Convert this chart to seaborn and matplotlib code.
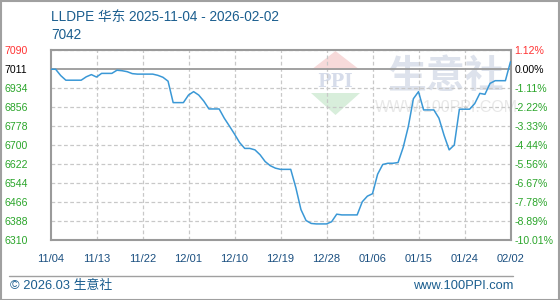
import matplotlib
matplotlib.use("Agg")
import matplotlib.pyplot as plt
from matplotlib.patches import Polygon, Rectangle
from matplotlib.lines import Line2D
import numpy as np
import pandas as pd
import seaborn as sns

# ---------------- data ----------------
title = "LLDPE 华东 2025-11-04 - 2026-02-02"
last_value_label = "7042"
base_value = 7011
start_date = "2025-11-04"
prices = [
    7011, 7011, 6985, 6966, 6966, 6966, 6966, 6980, 6989, 6979,
    6994, 6994, 6994, 7007, 7005, 7001, 6993, 6991, 6991, 6991,
    6991, 6986, 6978, 6962, 6874, 6874, 6874, 6905, 6919, 6905,
    6880, 6848, 6848, 6848, 6810, 6778, 6745, 6710, 6686, 6686,
    6680, 6660, 6632, 6615, 6605, 6600, 6600, 6600, 6525, 6435,
    6390, 6378, 6376, 6376, 6376, 6385, 6416, 6413, 6413, 6413,
    6413, 6467, 6490, 6500, 6580, 6620, 6625, 6625, 6628, 6690,
    6775, 6890, 6919, 6844, 6844, 6844, 6810, 6740, 6680, 6700,
    6847, 6847, 6847, 6870, 6912, 6908, 6953, 6964, 6964, 6964,
    7042,
]
y_ticks = [7090, 7011, 6934, 6856, 6778, 6700, 6622, 6544, 6466, 6388, 6310]
y_tick_labels = ["7090", "7011", "6934", "6856", "6778", "6700", "6622",
                 "6544", "6466", "6388", "6310"]
pct_labels = ["1.12%", "0.00%", "-1.11%", "-2.22%", "-3.33%", "-4.44%",
              "-5.56%", "-6.67%", "-7.78%", "-8.89%", "-10.01%"]
x_tick_labels = ["11/04", "11/13", "11/22", "12/01", "12/10", "12/19",
                 "12/28", "01/06", "01/15", "01/24", "02/02"]
footer_left = "© 2026.03 生意社"
footer_right = "www.100PPI.com"

dates = pd.date_range(start_date, periods=len(prices), freq="D")
df = pd.DataFrame({"date": dates, "price": prices})
x_tick_dates = pd.date_range(start_date, periods=len(x_tick_labels), freq="9D")

# ---------------- style ----------------
sns.set_theme(style="white")
plt.rcParams["font.family"] = ["Liberation Sans", "Noto Sans CJK SC", "DejaVu Sans"]

W, H = 560, 300
fig = plt.figure(figsize=(W / 100, H / 100), dpi=100)
fig.patch.set_facecolor("white")

def fx(px):
    return px / W

def fy(py):
    return 1 - py / H

ax_l, ax_r, ax_t, ax_b = 50.5, 510.5, 50, 240
ax = fig.add_axes([fx(ax_l), fy(ax_b), fx(ax_r - ax_l), (ax_b - ax_t) / H])

# watermark logo (decoration)
pink = "#f7dada"
green = "#d8eedb"
fig.patches.append(Polygon([[fx(311), fy(70)], [fx(360), fy(70)], [fx(335.5), fy(51)]],
                           closed=True, transform=fig.transFigure, facecolor=pink,
                           edgecolor="none", zorder=0.5))
fig.patches.append(Polygon([[fx(311), fy(93)], [fx(360), fy(93)], [fx(335.5), fy(115)]],
                           closed=True, transform=fig.transFigure, facecolor=green,
                           edgecolor="none", zorder=0.5))

ax.set_zorder(1)
ax.patch.set_alpha(0)

fig.text(fx(335.5), fy(82), "PPI", color="#d6dcea", fontsize=13, fontweight="bold",
         ha="center", va="center", zorder=0.6, family=["DejaVu Serif"])
fig.text(fx(446), fy(77), "生意社", color="#dde2ec", fontsize=28, fontweight="bold",
         ha="center", va="center", zorder=0.6, family=["Noto Sans CJK SC"])
fig.text(fx(446), fy(108), "WWW.100PPI.COM", color="#e8e8e8", fontsize=11.5,
         ha="center", va="center", zorder=0.6)

# line
sns.lineplot(data=df, x="date", y="price", ax=ax, color="#3a98d6", linewidth=1.1,
             zorder=3)

ax.set_xlim(dates[0], dates[-1])
ax.set_ylim(y_ticks[-1], y_ticks[0])
ax.set_xlabel("")
ax.set_ylabel("")

# grid
for v in y_ticks[2:-1]:
    ax.axhline(v, color="#c8c8c8", linestyle=(0, (3, 2)), linewidth=0.9, zorder=1)
ax.axhline(base_value, color="#9a9a9a", linewidth=1.3, zorder=2)
for d in x_tick_dates[1:-1]:
    ax.axvline(d, color="#c8c8c8", linestyle=(0, (3, 2)), linewidth=0.9, zorder=1)
ax.axhline(y_ticks[0], color="#c8c8c8", linestyle=(0, (3, 2)), linewidth=0.9, zorder=1)

for s in ax.spines.values():
    s.set_color("#9a9a9a")
    s.set_linewidth(1.5)
    s.set_visible(True)

ax.set_xticks(x_tick_dates)
ax.set_xticklabels(x_tick_labels)
ax.tick_params(axis="x", length=0, pad=10, labelsize=8, labelcolor="#1a4f80")

ax.set_yticks(y_ticks)
ax.set_yticklabels(y_tick_labels)
ax.tick_params(axis="y", length=0, pad=33, labelsize=7.6)
for lab in ax.get_yticklabels():
    lab.set_ha("left")
ycolors = ["#ff3333", "#000000"] + ["#2aa52a"] * (len(y_ticks) - 2)
for lab, c in zip(ax.get_yticklabels(), ycolors):
    lab.set_color(c)

ax2 = ax.twinx()
ax2.set_ylim(ax.get_ylim())
ax2.set_yticks(y_ticks)
ax2.set_yticklabels(pct_labels)
ax2.tick_params(axis="y", length=0, pad=3, labelsize=7.6)
for lab, c in zip(ax2.get_yticklabels(), ycolors):
    lab.set_color(c)
for s in ax2.spines.values():
    s.set_visible(False)
ax2.grid(False)

# title texts
fig.text(fx(51), fy(17), title, color="#1b5e8f", fontsize=9.8, ha="left", va="center")
fig.text(fx(51), fy(35), last_value_label, color="#1b5e8f", fontsize=9.8,
         ha="left", va="center")

# footer
fig.add_artist(Line2D([fx(9), fx(513)], [fy(275.5), fy(275.5)], transform=fig.transFigure,
                      color="#a0a0a0", linewidth=1))
fig.text(fx(10), fy(286), footer_left, color="#1b5e8f", fontsize=9.3, ha="left",
         va="center")
fig.text(fx(513), fy(286), footer_right, color="#1b5e8f", fontsize=9.3, ha="right",
         va="center")

# outer border
fig.add_artist(Rectangle((0.5 / W, 0.5 / H), 1 - 1.5 / W, 1 - 1.5 / H,
                         transform=fig.transFigure, fill=False, edgecolor="#a0a0a0",
                         linewidth=1.5))

fig.savefig("out.png", dpi=100)
